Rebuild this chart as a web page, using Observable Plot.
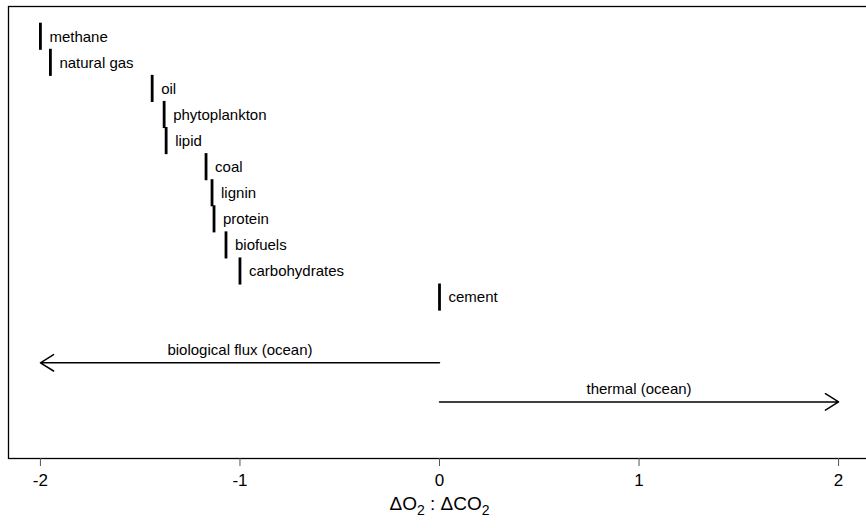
<!DOCTYPE html>
<html><head><meta charset="utf-8">
<script src="https://cdn.jsdelivr.net/npm/d3@7"></script>
<script src="https://cdn.jsdelivr.net/npm/@observablehq/plot@0.6"></script>
<style>
html,body{margin:0;padding:0;background:#fff;overflow:hidden;}
</style></head><body><div id="chart"></div>
<script>
// Fuel / process labels and their O2:CO2 exchange ratios
const names = ["methane", "natural gas", "oil", "phytoplankton", "lipid", "coal", "lignin", "protein", "biofuels", "carbohydrates", "cement"];
const ratios = [-2.0, -1.95, -1.44, -1.38, -1.37, -1.17, -1.14, -1.13, -1.07, -1.0, 0];

// Ocean flux arrows
const fluxLabels = ["biological flux (ocean)", "thermal (ocean)"];
const fluxFrom = [0, 0];
const fluxTo = [-2, 2];
const fluxRows = [13.5, 15];

const xTicks = [-2, -1, 0, 1, 2];
const axisTitle = "ΔO2 : ΔCO2";

const fuels = names.map((name, i) => ({name, ratio: ratios[i], row: i + 1}));
const fluxes = fluxLabels.map((label, i) => ({label, x1: fluxFrom[i], x2: fluxTo[i], row: fluxRows[i], mid: (fluxFrom[i] + fluxTo[i]) / 2}));

const chart = Plot.plot({
  width: 866, height: 528,
  marginLeft: 8, marginRight: -4, marginTop: 6, marginBottom: 70,
  style: {fontFamily: "'Liberation Sans', Arial, Helvetica, sans-serif", fontSize: "17px", background: "white", color: "black", overflow: "visible"},
  x: {domain: [-2.16, 2.16]},
  y: {domain: [-0.16, 17.17], reverse: true, axis: null},
  marks: [
    Plot.frame({stroke: "black", strokeWidth: 1.3}),
    Plot.axisX({ticks: xTicks, tickSize: 8, tickPadding: 7, label: null, tickFormat: d => String(d), stroke: "#555"}),
    Plot.ruleX(fuels, {x: "ratio", y1: d => d.row - 0.52, y2: d => d.row + 0.52, stroke: "black", strokeWidth: 2.8}),
    Plot.text(fuels, {x: "ratio", y: "row", text: "name", textAnchor: "start", dx: 9, fontSize: 15, fill: "black"}),
    Plot.arrow(fluxes, {x1: "x1", x2: "x2", y1: "row", y2: "row", stroke: "black", strokeWidth: 1.5, headLength: 15.5, headAngle: 64}),
    Plot.text(fluxes, {x: "mid", y: "row", text: "label", dy: -13, fontSize: 15, fill: "black"}),
    Plot.text([axisTitle], {frameAnchor: "bottom", dy: 51, fontSize: 19, fill: "black"})
  ]
});
document.getElementById("chart").appendChild(chart);

// Render the subscripts of the axis title
d3.select(chart).selectAll("text").filter(function() { return this.textContent === axisTitle; }).each(function() {
  const t = d3.select(this);
  t.text("");
  t.append("tspan").text("ΔO");
  t.append("tspan").attr("font-size", 14).attr("dy", "5").text("2");
  t.append("tspan").attr("dy", "-5").text(" : ΔCO");
  t.append("tspan").attr("font-size", 14).attr("dy", "5").text("2");
});
</script></body></html>
